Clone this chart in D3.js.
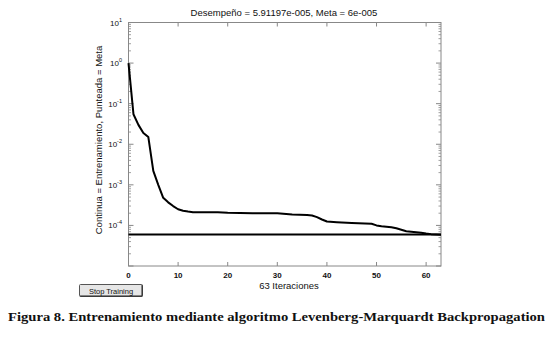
<!DOCTYPE html>
<html><head><meta charset="utf-8">
<script src="https://cdn.jsdelivr.net/npm/d3@7/dist/d3.min.js"></script>
<style>body{margin:0;background:#fff}svg{display:block}</style>
</head><body>
<svg id="c" width="555" height="346"></svg>
<script>
const iterations = [0,1,2,3,4,5,6,7,8,9,10,11,12,13,15,18,20,25,30,33,36,37,38,39,40,42,45,49,50,51,53,54,55,56,57,58,59,60,61,62,63];
const performance = [1.0,0.055,0.03,0.019,0.015,0.0022,0.001,0.00048,0.00037,0.0003,0.00025,0.00023,0.00022,0.000212,0.00021,0.00021,0.000205,0.0002,0.0002,0.000185,0.00018,0.000175,0.00016,0.00014,0.000125,0.00012,0.000115,0.00011,0.0001,0.000095,0.00009,0.000085,0.000078,0.000072,0.00007,0.000068,0.000066,0.000063,0.000061,0.00006,0.0000591];
const goal = 6e-5;
const xTicks = [0,10,20,30,40,50,60];
const yExponents = [1,0,-1,-2,-3,-4];
const titleText = "Desempeño = 5.91197e-005, Meta = 6e-005";
const xLabel = "63 Iteraciones";
const yLabel = "Continua = Entrenamiento, Punteada = Meta";
const caption = "Figura 8. Entrenamiento mediante algoritmo Levenberg-Marquardt Backpropagation";

const svg = d3.select("#c");
const L=128.5, R=441, T=22.5, B=266;
const x = d3.scaleLinear().domain([0,63]).range([L,R]);
const y = d3.scaleLog().domain([1e-5,10]).range([B,T]);
const font = "'Liberation Sans', Arial, sans-serif";
const axisCol = "#888";

// minor ticks
const g = svg.append("g");
for (let e=-5; e<1; e++) {
  for (let m=2; m<=9; m++) {
    const yy = y(m*Math.pow(10,e));
    g.append("line").attr("x1",L).attr("x2",L+2.5).attr("y1",yy).attr("y2",yy).attr("stroke",axisCol).attr("stroke-width",0.8);
    g.append("line").attr("x1",R).attr("x2",R-2.5).attr("y1",yy).attr("y2",yy).attr("stroke",axisCol).attr("stroke-width",0.8);
  }
}
// major y ticks
for (let e=-5; e<=1; e++) {
  const yy = y(Math.pow(10,e));
  g.append("line").attr("x1",L).attr("x2",L+5).attr("y1",yy).attr("y2",yy).attr("stroke",axisCol);
  g.append("line").attr("x1",R).attr("x2",R-5).attr("y1",yy).attr("y2",yy).attr("stroke",axisCol);
}
// x ticks
xTicks.forEach(t=>{
  const xx = x(t);
  g.append("line").attr("x1",xx).attr("x2",xx).attr("y1",B).attr("y2",B-4).attr("stroke",axisCol);
  g.append("line").attr("x1",xx).attr("x2",xx).attr("y1",T).attr("y2",T+4).attr("stroke",axisCol);
  svg.append("text").attr("x",xx).attr("y",277.5).attr("text-anchor","middle")
    .attr("font-family",font).attr("font-size",8).attr("font-weight","bold").attr("fill","#111").text(t);
});
// box
svg.append("rect").attr("x",L).attr("y",T).attr("width",R-L).attr("height",B-T)
  .attr("fill","none").attr("stroke",axisCol).attr("stroke-width",1);

// y tick labels
yExponents.forEach(e=>{
  const yy = y(Math.pow(10,e));
  const t = svg.append("text").attr("x",122).attr("y",yy+3).attr("text-anchor","end")
    .attr("font-family",font).attr("font-size",8).attr("fill","#111");
  t.append("tspan").text("10");
  t.append("tspan").attr("dy",-4).attr("font-size",5.5).text(e);
});

// goal line
svg.append("line").attr("x1",x(0)).attr("x2",x(63)).attr("y1",y(goal)).attr("y2",y(goal))
  .attr("stroke","#000").attr("stroke-width",2);

// performance line
const line = d3.line().x((d,i)=>x(iterations[i])).y(d=>y(d));
svg.append("path").datum(performance).attr("d",line).attr("fill","none")
  .attr("stroke","#000").attr("stroke-width",2).attr("stroke-linejoin","round");

// title
svg.append("text").attr("x",284).attr("y",16).attr("text-anchor","middle")
  .attr("font-family",font).attr("font-size",9.5).attr("fill","#111").text(titleText);
// x label
svg.append("text").attr("x",289).attr("y",289).attr("text-anchor","middle")
  .attr("font-family",font).attr("font-size",9.5).attr("fill","#111").text(xLabel);
// y label
svg.append("text").attr("transform","translate(102,140) rotate(-90)").attr("text-anchor","middle")
  .attr("font-family",font).attr("font-size",9.5).attr("fill","#111").text(yLabel);

// button
svg.append("rect").attr("x",79.5).attr("y",284.5).attr("width",63).attr("height",12)
  .attr("fill","#e6e6e6").attr("stroke","#555").attr("stroke-width",1).attr("rx",1);
svg.append("line").attr("x1",80).attr("x2",142).attr("y1",296).attr("y2",296).attr("stroke","#222");
svg.append("line").attr("x1",142).attr("x2",142).attr("y1",285).attr("y2",296.5).attr("stroke","#222");
svg.append("text").attr("x",111).attr("y",293.5).attr("text-anchor","middle")
  .attr("font-family",font).attr("font-size",7.5).attr("fill","#111").text("Stop Training");

// caption
svg.append("text").attr("x",8).attr("y",321).attr("textLength",537).attr("lengthAdjust","spacingAndGlyphs")
  .attr("font-family","'Liberation Serif','Times New Roman',serif").attr("font-size",13).attr("font-weight","bold")
  .attr("fill","#111").text(caption);
</script>
</body></html>
